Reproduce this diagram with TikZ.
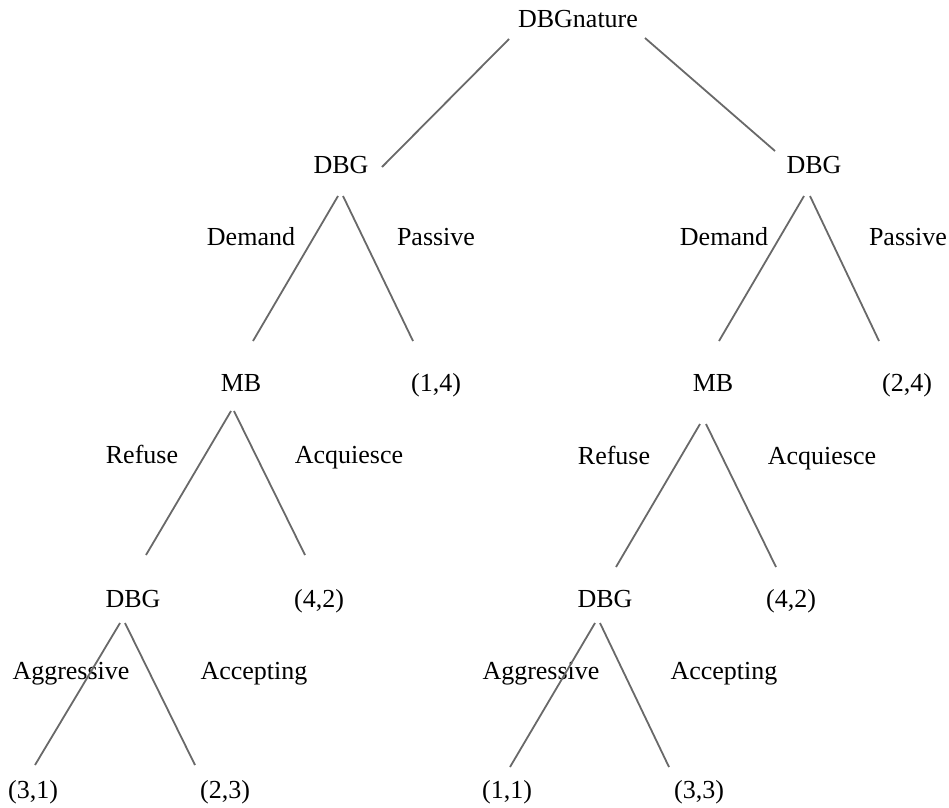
\documentclass[tikz,border=0pt]{standalone}
\usepackage{fontspec}
\setmainfont{Liberation Serif}
\begin{document}
\begin{tikzpicture}[x=1pt,y=-1pt,
  lbl/.style={anchor=base,inner sep=0pt,font=\fontsize{26}{31}\selectfont},
  branch/.style={draw={rgb,255:red,105;green,105;blue,105},line width=1.8pt}]
\useasboundingbox (0,0) rectangle (949,807);

% root
\node[lbl] (nat) at (578,27) {DBGnature};

% first level
\node[lbl] (dbgL) at (341,173) {DBG};
\node[lbl] (dbgR) at (814,173) {DBG};

% action labels, first level
\node[lbl] (demL) at (251,245) {Demand};
\node[lbl] (pasL) at (436,245) {Passive};
\node[lbl] (demR) at (724,245) {Demand};
\node[lbl] (pasR) at (908,245) {Passive};

% second level
\node[lbl] (mbL) at (241,391) {MB};
\node[lbl] (p14) at (436,391) {(1,4)};
\node[lbl] (mbR) at (713,391) {MB};
\node[lbl] (p24) at (907,391) {(2,4)};

% action labels, second level
\node[lbl] (refL) at (142,463) {Refuse};
\node[lbl] (acqL) at (349,463) {Acquiesce};
\node[lbl] (refR) at (614,464) {Refuse};
\node[lbl] (acqR) at (822,464) {Acquiesce};

% third level
\node[lbl] (dbg3L) at (133,607) {DBG};
\node[lbl] (p42L) at (319,607) {(4,2)};
\node[lbl] (dbg3R) at (605,607) {DBG};
\node[lbl] (p42R) at (791,607) {(4,2)};

% action labels, third level
\node[lbl] (aggL) at (71,679) {Aggressive};
\node[lbl] (accL) at (254,679) {Accepting};
\node[lbl] (aggR) at (541,679) {Aggressive};
\node[lbl] (accR) at (724,679) {Accepting};

% payoffs
\node[lbl] (p31) at (33,798) {(3,1)};
\node[lbl] (p23) at (225,798) {(2,3)};
\node[lbl] (p11) at (507,798) {(1,1)};
\node[lbl] (p33) at (699,798) {(3,3)};

% branch end points
\coordinate (natA) at (509,39);   \coordinate (dbgLtop) at (382,167);
\coordinate (natB) at (645,38);   \coordinate (dbgRtop) at (775,151);

\coordinate (dbgLa) at (338,196); \coordinate (mbLtop) at (253,341);
\coordinate (dbgLb) at (343,196); \coordinate (p14top) at (413,341);
\coordinate (dbgRa) at (804,196); \coordinate (mbRtop) at (719,341);
\coordinate (dbgRb) at (810,196); \coordinate (p24top) at (879,341);

\coordinate (mbLa) at (231,411);  \coordinate (dbg3Ltop) at (146,555);
\coordinate (mbLb) at (234,411);  \coordinate (p42Ltop) at (305,555);
\coordinate (mbRa) at (700,424);  \coordinate (dbg3Rtop) at (616,567);
\coordinate (mbRb) at (706,424);  \coordinate (p42Rtop) at (776,567);

\coordinate (dbg3La) at (120,623); \coordinate (p31top) at (35,765);
\coordinate (dbg3Lb) at (125,623); \coordinate (p23top) at (195,765);
\coordinate (dbg3Ra) at (595,623); \coordinate (p11top) at (510,767);
\coordinate (dbg3Rb) at (600,623); \coordinate (p33top) at (669,767);

% branches
\draw[branch] (natA) -- (dbgLtop);
\draw[branch] (natB) -- (dbgRtop);
\draw[branch] (dbgLa) -- (mbLtop);
\draw[branch] (dbgLb) -- (p14top);
\draw[branch] (dbgRa) -- (mbRtop);
\draw[branch] (dbgRb) -- (p24top);
\draw[branch] (mbLa) -- (dbg3Ltop);
\draw[branch] (mbLb) -- (p42Ltop);
\draw[branch] (mbRa) -- (dbg3Rtop);
\draw[branch] (mbRb) -- (p42Rtop);
\draw[branch] (dbg3La) -- (p31top);
\draw[branch] (dbg3Lb) -- (p23top);
\draw[branch] (dbg3Ra) -- (p11top);
\draw[branch] (dbg3Rb) -- (p33top);
\end{tikzpicture}
\end{document}
